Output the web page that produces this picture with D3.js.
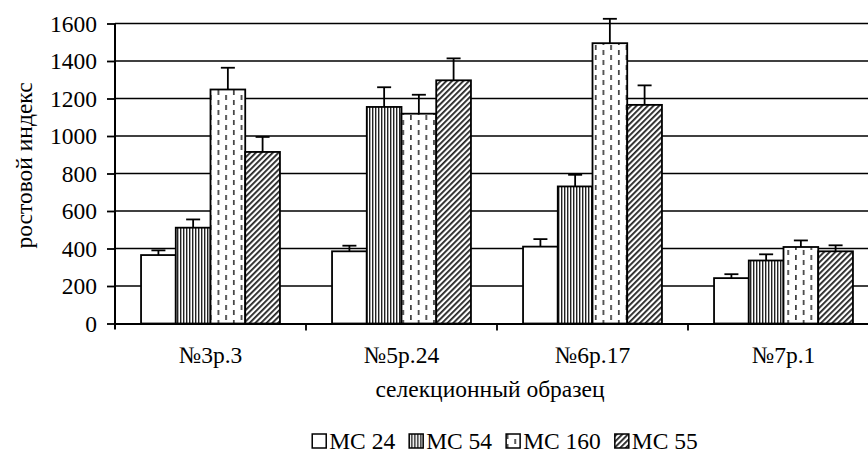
<!DOCTYPE html>
<html lang="ru">
<head>
<meta charset="UTF-8">
<script src="https://d3js.org/d3.v7.min.js"></script>
<style>
  body { margin: 0; background: #fff; }
  svg text { font-family: "Liberation Serif", serif; fill: #000; }
</style>
</head>
<body>
<svg id="chart"></svg>
<script>
const categories = ["№3р.3", "№5р.24", "№6р.17", "№7р.1"];
const seriesNames = ["МС 24", "МС 54", "МС 160", "МС 55"];
const mc24 = [365, 385, 410, 242];
const mc54 = [511, 1155, 731, 336];
const mc160 = [1248, 1119, 1495, 408];
const mc55 = [915, 1297, 1166, 385];
const err24 = [25, 30, 40, 21];
const err54 = [44, 105, 62, 33];
const err160 = [116, 101, 130, 35];
const err55 = [80, 117, 104, 32];
const yTicks = [0, 200, 400, 600, 800, 1000, 1200, 1400, 1600];

const values = [mc24, mc54, mc160, mc55];
const errors = [err24, err54, err160, err55];

const width = 868, height = 463;
const margin = { top: 23.5, left: 115, bottom: 323.5, right: 879 };
const fontSize = 23.5;
const serif = '"Liberation Serif", serif';

const svg = d3.select("#chart").attr("width", width).attr("height", height);

// patterns
const defs = svg.append("defs");
const pStripe = defs.append("pattern").attr("id", "p-stripe")
  .attr("patternUnits", "userSpaceOnUse").attr("width", 3).attr("height", 3);
pStripe.append("rect").attr("width", 3).attr("height", 3).attr("fill", "#fff");
pStripe.append("rect").attr("width", 1.4).attr("height", 3).attr("fill", "#222");

const pDash = defs.append("pattern").attr("id", "p-dash")
  .attr("patternUnits", "userSpaceOnUse").attr("width", 15.4).attr("height", 10);
pDash.append("rect").attr("width", 15.4).attr("height", 10).attr("fill", "#fff");
pDash.append("rect").attr("x", 2).attr("y", 0).attr("width", 1.6).attr("height", 5).attr("fill", "#333");
pDash.append("rect").attr("x", 9.7).attr("y", 5).attr("width", 1.6).attr("height", 5).attr("fill", "#333");

const pHatch = defs.append("pattern").attr("id", "p-hatch")
  .attr("patternUnits", "userSpaceOnUse").attr("width", 4).attr("height", 4)
  .attr("patternTransform", "rotate(45)");
pHatch.append("rect").attr("width", 4).attr("height", 4).attr("fill", "#fff");
pHatch.append("rect").attr("width", 1.8).attr("height", 4).attr("fill", "#222");

const fills = ["#fff", "url(#p-stripe)", "url(#p-dash)", "url(#p-hatch)"];

const y = d3.scaleLinear().domain([0, 1600]).range([margin.bottom, margin.top]);
const x = d3.scaleBand().domain(categories).range([margin.left, margin.right]);
const bw = x.bandwidth() / 5.5;
const xs = d3.scaleBand().domain(seriesNames).range([0.75 * bw, x.bandwidth() - 0.75 * bw]);

// gridlines
svg.append("g").selectAll("line").data(yTicks.slice(1)).join("line")
  .attr("x1", margin.left).attr("x2", margin.right)
  .attr("y1", d => y(d)).attr("y2", d => y(d))
  .attr("stroke", "#000").attr("stroke-width", 1.4);

// bars
const rows = [];
seriesNames.forEach((s, i) => categories.forEach((c, j) => {
  rows.push({ s, c, i, v: values[i][j], e: errors[i][j] });
}));

svg.append("g").selectAll("rect").data(rows).join("rect")
  .attr("x", d => x(d.c) + xs(d.s))
  .attr("y", d => y(d.v))
  .attr("width", xs.bandwidth())
  .attr("height", d => y(0) - y(d.v))
  .attr("fill", d => fills[d.i])
  .attr("stroke", "#000").attr("stroke-width", 1.8);

// error bars (plus only)
const eb = svg.append("g").attr("stroke", "#000").attr("stroke-width", 1.8);
const cx = d => x(d.c) + xs(d.s) + xs.bandwidth() / 2;
eb.selectAll("line.v").data(rows).join("line").attr("class", "v")
  .attr("x1", cx).attr("x2", cx)
  .attr("y1", d => y(d.v)).attr("y2", d => y(d.v + d.e));
eb.selectAll("line.c").data(rows).join("line").attr("class", "c")
  .attr("x1", d => cx(d) - 7).attr("x2", d => cx(d) + 7)
  .attr("y1", d => y(d.v + d.e)).attr("y2", d => y(d.v + d.e));

// y axis
const yAxis = svg.append("g")
  .attr("transform", `translate(${margin.left},0)`)
  .call(d3.axisLeft(y).tickValues(yTicks).tickFormat(d3.format("d")).tickSize(8).tickPadding(10));
yAxis.select(".domain").attr("stroke-width", 2).attr("d", `M0,${margin.top}V${margin.bottom + 6}`);
yAxis.selectAll(".tick line").attr("stroke-width", 1.8);
yAxis.selectAll("text").style("font-family", serif).style("font-size", fontSize + "px");

// x axis
const xAxis = svg.append("g")
  .attr("transform", `translate(0,${margin.bottom})`)
  .call(d3.axisBottom(x).tickSize(0).tickPadding(23));
xAxis.select(".domain").attr("stroke-width", 2.2);
xAxis.selectAll("text").style("font-family", serif).style("font-size", fontSize + "px");
svg.append("g").selectAll("line").data(categories.slice(1)).join("line")
  .attr("x1", d => x(d)).attr("x2", d => x(d))
  .attr("y1", margin.bottom).attr("y2", margin.bottom + 7)
  .attr("stroke", "#000").attr("stroke-width", 1.8);

// axis titles
svg.append("text")
  .attr("transform", `translate(32,${(margin.top + margin.bottom) / 2 - 8}) rotate(-90)`)
  .attr("text-anchor", "middle")
  .style("font-family", serif).style("font-size", fontSize + "px")
  .text("ростовой индекс");
svg.append("text")
  .attr("x", 490).attr("y", 397)
  .attr("text-anchor", "middle")
  .style("font-family", serif).style("font-size", fontSize + "px")
  .text("селекционный образец");

// legend
const legend = svg.append("g").attr("transform", "translate(0,449)");
let lx = 0;
seriesNames.forEach((s, i) => {
  legend.append("rect").attr("x", lx).attr("y", -15).attr("width", 14).attr("height", 14)
    .attr("fill", fills[i]).attr("stroke", "#000").attr("stroke-width", 1.5);
  const t = legend.append("text").attr("x", lx + 17).attr("y", 0)
    .style("font-family", serif).style("font-size", fontSize + "px").text(s);
  lx += 17 + t.node().getComputedTextLength() + 14;
});
lx -= 14;
legend.attr("transform", `translate(${505 - lx / 2},449)`);
</script>
</body>
</html>
